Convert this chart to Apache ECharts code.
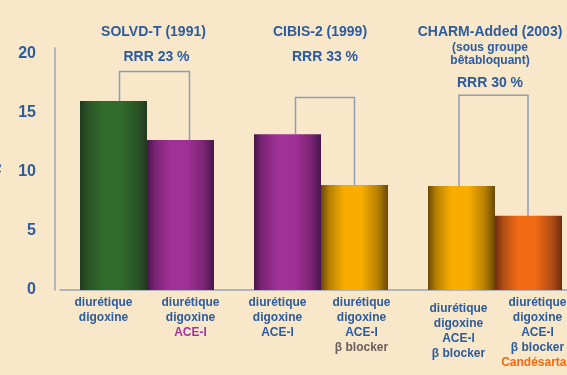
<!DOCTYPE html>
<html>
<head>
<meta charset="utf-8">
<script src="https://cdn.jsdelivr.net/npm/echarts@6/dist/echarts.min.js"></script>
<style>html,body{margin:0;padding:0;background:#f8e7c9;}#c{width:567px;height:375px;}</style>
</head>
<body>
<div id="c"></div>
<script>
// ---- data ----
var groups = ['SOLVD-T (1991)', 'CIBIS-2 (1999)', 'CHARM-Added (2003)'];
var subtitles = ['', '', '(sous groupe\nbêtabloquant)'];
var rrrLabels = ['RRR 23 %', 'RRR 33 %', 'RRR 30 %'];
var controlValues = [16.0, 13.2, 8.8];
var treatedValues = [12.7, 8.9, 6.3];
var bracketTop = [18.5, 16.3, 16.5];
var controlLines = [
  ['diurétique', 'digoxine'],
  ['diurétique', 'digoxine', 'ACE-I'],
  ['diurétique', 'digoxine', 'ACE-I', 'β blocker']
];
var treatedLines = [
  ['diurétique', 'digoxine', 'ACE-I'],
  ['diurétique', 'digoxine', 'ACE-I', 'β blocker'],
  ['diurétique', 'digoxine', 'ACE-I', 'β blocker', 'Candésartan']
];
var yTicks = [0, 5, 10, 15, 20];

// ---- styles ----
var BLUE = '#2c5b9e';
var ADDED_STYLE = ['p', 'g', 'o']; // style of the added drug in treated bar
var FONT = 'Liberation Sans, Arial, sans-serif';
function grad(dark, mid, light) {
  return new echarts.graphic.LinearGradient(0, 0, 1, 0, [
    {offset: 0, color: dark}, {offset: 0.12, color: mid}, {offset: 0.35, color: light},
    {offset: 0.6, color: light}, {offset: 0.85, color: mid}, {offset: 1, color: dark}
  ]);
}
var green = grad('#213a1f', '#2a5526', '#2f6b2b');
var purple = grad('#46164a', '#7a2474', '#a03196');
var gold = grad('#6a4806', '#b67f03', '#f8ad00');
var orange = grad('#6e2e10', '#b04c14', '#f26b14');
var controlColors = [green, purple, gold];
var treatedColors = [purple, gold, orange];
var controlLabelDx = [-10, -10, -3];
var treatedLabelDx = [10, 7, 9];
var controlLabelDist = [5.5, 5.5, 11.5];
var treatedLabelDist = [5.5, 5.5, 5.5];
var bracketDxL = [6, 8, -2.5];
var bracketDxR = [9, 0, -0.5];
var titleDx = [6.5, -1, -5];
var rrrDx = [9.5, 4, -5];
var rrrY = [57, 57, 83];
var HALF = 33.5;

function fmt(lines, addedKey) {
  return lines.map(function (t, j) {
    var k = (addedKey && j === lines.length - 1) ? addedKey : 'b';
    return '{' + k + '|' + t + '}';
  }).join('\n');
}
var rich = {
  b: {color: BLUE, fontWeight: 'bold', fontSize: 12, lineHeight: 15, fontFamily: FONT},
  p: {color: '#a3349c', fontWeight: 'bold', fontSize: 12, lineHeight: 15, fontFamily: FONT},
  g: {color: '#6b5e5e', fontWeight: 'bold', fontSize: 12, lineHeight: 15, fontFamily: FONT},
  o: {color: '#f26b12', fontWeight: 'bold', fontSize: 12, lineHeight: 15, fontFamily: FONT}
};

var controlData = controlValues.map(function (v, i) {
  return {value: v, itemStyle: {color: controlColors[i]},
    label: {formatter: fmt(controlLines[i], null), offset: [controlLabelDx[i], 0], distance: controlLabelDist[i]}};
});
var treatedData = treatedValues.map(function (v, i) {
  return {value: v, itemStyle: {color: treatedColors[i]},
    label: {formatter: fmt(treatedLines[i], ADDED_STYLE[i]), offset: [treatedLabelDx[i], 0], distance: treatedLabelDist[i]}};
});

var chart = echarts.init(document.getElementById('c'), null, {renderer: 'canvas'});
chart.setOption({
  backgroundColor: '#f8e7c9',
  animation: false,
  grid: {left: 60, width: 522, top: 48, bottom: 85, containLabel: false, outerBoundsMode: 'none'},
  xAxis: {
    type: 'category', data: groups,
    axisLabel: {show: false}, axisTick: {show: false},
    axisLine: {lineStyle: {color: '#9aa4b8', width: 1.5}}
  },
  yAxis: {
    type: 'value', min: 0, max: 20.5, interval: 5, offset: 5,
    name: '%', nameLocation: 'middle', nameGap: 51, nameRotate: 90,
    nameTextStyle: {color: BLUE, fontWeight: 'bold', fontSize: 13, fontFamily: FONT},
    axisLine: {show: true, lineStyle: {color: '#9aa4b8', width: 1.5}},
    axisTick: {show: false}, splitLine: {show: false},
    axisLabel: {
      color: BLUE, fontWeight: 'bold', fontSize: 16, fontFamily: FONT, margin: 19,
      formatter: function (v) { return yTicks.indexOf(v) >= 0 ? String(v) : ''; }
    }
  },
  series: [
    {type: 'bar', data: controlData, barWidth: 67, barGap: '0%',
      label: {show: true, position: 'bottom', rich: rich, align: 'center'}},
    {type: 'bar', data: treatedData, barWidth: 67, barGap: '0%',
      label: {show: true, position: 'bottom', rich: rich, align: 'center'}},
    {
      type: 'custom', z: 5,
      data: bracketTop.map(function (b, i) { return [i, b]; }),
      encode: {x: 0, y: 1},
      renderItem: function (params, api) {
        var i = params.dataIndex;
        var cx = api.coord([i, 0])[0];
        var yTop = api.coord([i, bracketTop[i]])[1];
        var yL = api.coord([i, controlValues[i]])[1];
        var yR = api.coord([i, treatedValues[i]])[1];
        var xL = cx - HALF + bracketDxL[i];
        var xR = cx + HALF + bracketDxR[i];
        var children = [
          {type: 'polyline', shape: {points: [[xL, yL], [xL, yTop], [xR, yTop], [xR, yR]]},
            style: {stroke: '#8e9db6', lineWidth: 1.5, fill: null}},
          {type: 'text', x: cx + titleDx[i], y: 32,
            style: {text: groups[i], textAlign: 'center', textVerticalAlign: 'middle',
              fill: BLUE, font: 'bold 14px ' + FONT}},
          {type: 'text', x: cx + rrrDx[i], y: rrrY[i],
            style: {text: rrrLabels[i], textAlign: 'center', textVerticalAlign: 'middle',
              fill: BLUE, font: 'bold 14px ' + FONT}}
        ];
        if (subtitles[i]) {
          children.push({type: 'text', x: cx + titleDx[i], y: 41,
            style: {text: subtitles[i], textAlign: 'center', textVerticalAlign: 'top',
              fill: BLUE, font: 'bold 12px ' + FONT, lineHeight: 13}});
        }
        return {type: 'group', children: children};
      }
    }
  ]
});
</script>
</body>
</html>
